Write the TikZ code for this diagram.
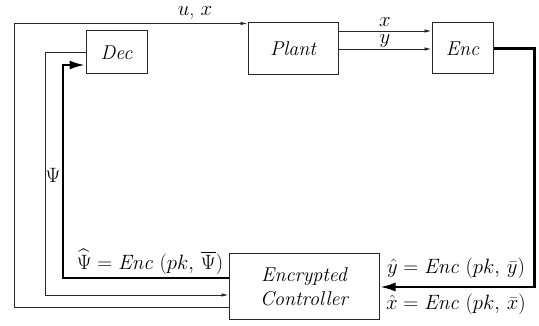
\documentclass[tikz,border=0pt]{standalone}
\usepackage{amsmath,amssymb}
\usetikzlibrary{positioning,arrows.meta,calc}

\begin{document}
\begin{tikzpicture}[
    x=1pt, y=-1pt,
    >=Latex,
    block/.style  = {rectangle, draw=black!85, line width=1pt, align=center,
                     font=\fontsize{20}{24}\selectfont\itshape, inner sep=0pt},
    sig/.style    = {draw=black!85, line width=0.9pt, -{Latex[length=7pt,width=3.5pt]}},
    secure/.style = {draw=black, line width=2.8pt, -{Latex[length=16pt,width=9pt]}},
    lbl/.style    = {font=\fontsize{20}{24}\selectfont, inner sep=1pt},
]
\useasboundingbox (0,0) rectangle (539,326);

\node[block, minimum width=61pt,  minimum height=43pt] (dec)   at (116.5,52.5) {Dec};
\node[block, minimum width=90pt,  minimum height=52pt] (plant) at (293,49)     {Plant};
\node[block, minimum width=61pt,  minimum height=51pt] (enc)   at (462.5,48.5) {Enc};
\node[block, minimum width=150pt, minimum height=66pt] (ctrl)  at (304,287)    {Encrypted\\Controller};

% helper points for the feedback loops
\coordinate (outer) at ([yshift=-20pt]ctrl.west);
\coordinate (outx)  at (14,0);
\coordinate (psix)  at (45,295);
\coordinate (hatx)  at (63,65);

% plain signals
\draw[sig] (outer) -- (outer -| outx) |- ([yshift=25.5pt]plant.west);
\draw[sig] (dec.west) -| (psix) -- (psix -| ctrl.west);
\draw[sig] ([yshift=18pt]plant.east) -- ([yshift=18pt]plant.east -| enc.west)
    node[lbl, midway, above=3pt] (xl) {$x$};
\draw[sig] (plant.east) -- (plant.east -| enc.west)
    node[lbl, midway, above=0pt] (yl) {$y$};
\node[lbl] (ux)  at (195,13)  {$u$, $x$};
\node[lbl] (psi) at (53,175) {$\Psi$};

% encrypted signals
\draw[secure] ([yshift=9pt]ctrl.west) -| (hatx) -- (hatx -| dec.west);
\draw[secure] (enc.east) -- ++(41,0) |- (ctrl.east);

\node[lbl] (psihat) at (150,262) {$\widehat{\Psi}= \mathit{Enc}\;(pk,\, \overline{\Psi})$};
\node[lbl] (yhat)   at (456,268) {$\hat{y} = \mathit{Enc}\;(pk,\, \bar{y})$};
\node[lbl] (xhat)   at (456,304) {$\hat{x} = \mathit{Enc}\;(pk,\, \bar{x})$};
\end{tikzpicture}
\end{document}
